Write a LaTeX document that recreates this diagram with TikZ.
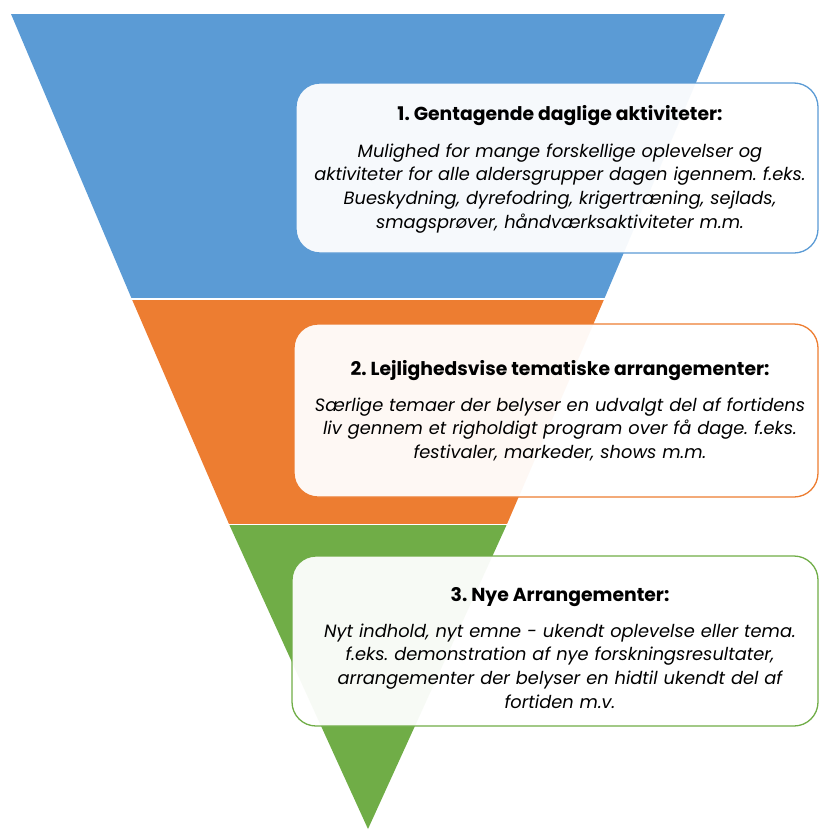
\documentclass[tikz,border=0pt]{standalone}
\usepackage{fontspec}
\setmainfont{Poppins}
\definecolor{fblue}{HTML}{5B9BD5}
\definecolor{forange}{HTML}{ED7D31}
\definecolor{fgreen}{HTML}{70AD47}
\frenchspacing
\begin{document}
\begin{tikzpicture}[x=1pt,y=-1pt,
  band/.style={draw=white,line width=1.5pt},
  infobox/.style={rounded corners=24pt,line width=1.3pt,fill=white,fill opacity=0.95,text opacity=1},
  txt/.style={align=center,text width=520pt,font=\fontsize{17.8}{23.8}\selectfont},
  hd/.style={font=\fontsize{18.8}{22}\selectfont\bfseries}
]
\useasboundingbox (0,0) rectangle (819,830);
% funnel bands
\coordinate (tl) at (11,14);
\coordinate (tr) at (725,14);
\coordinate (ap) at (368,829);
\fill[fblue] (tl) -- (tr) -- (604.2,299) -- (131.8,299) -- cycle;
\fill[forange] (604.2,299) -- (506.8,524.5) -- (229.2,524.5) -- (131.8,299) -- cycle;
\fill[fgreen] (506.8,524.5) -- (ap) -- (229.2,524.5) -- cycle;
\draw[band] (130,299) -- (606,299);
\draw[band] (228,524.5) -- (508,524.5);
% boxes
\draw[infobox,draw=fblue] (296,83) rectangle (818,253);
\draw[infobox,draw=forange] (294,324) rectangle (818,497);
\draw[infobox,draw=fgreen] (292,556) rectangle (818,726);
% texts
\node[hd] (h1) at (560,116) {1. Gentagende daglige aktiviteter:};
\node[txt,anchor=north] (b1) at (560,140) {\itshape Mulighed for mange forskellige oplevelser og\\ aktiviteter for alle aldersgrupper dagen igennem. f.eks.\\ Bueskydning, dyrefodring, krigertræning, sejlads,\\ smagsprøver, håndværksaktiviteter m.m.};
\node[hd] (h2) at (560,371) {2. Lejlighedsvise tematiske arrangementer:};
\node[txt,anchor=north] (b2) at (560,394) {\itshape Særlige temaer der belyser en udvalgt del af fortidens\\ liv gennem et righoldigt program over få dage. f.eks.\\ festivaler, markeder, shows m.m.};
\node[hd] (h3) at (560,597) {3. Nye Arrangementer:};
\node[txt,anchor=north] (b3) at (560,620) {\itshape Nyt indhold, nyt emne - ukendt oplevelse eller tema.\\ f.eks. demonstration af nye forskningsresultater,\\ arrangementer der belyser en hidtil ukendt del af\\ fortiden m.v.};
\end{tikzpicture}
\end{document}
